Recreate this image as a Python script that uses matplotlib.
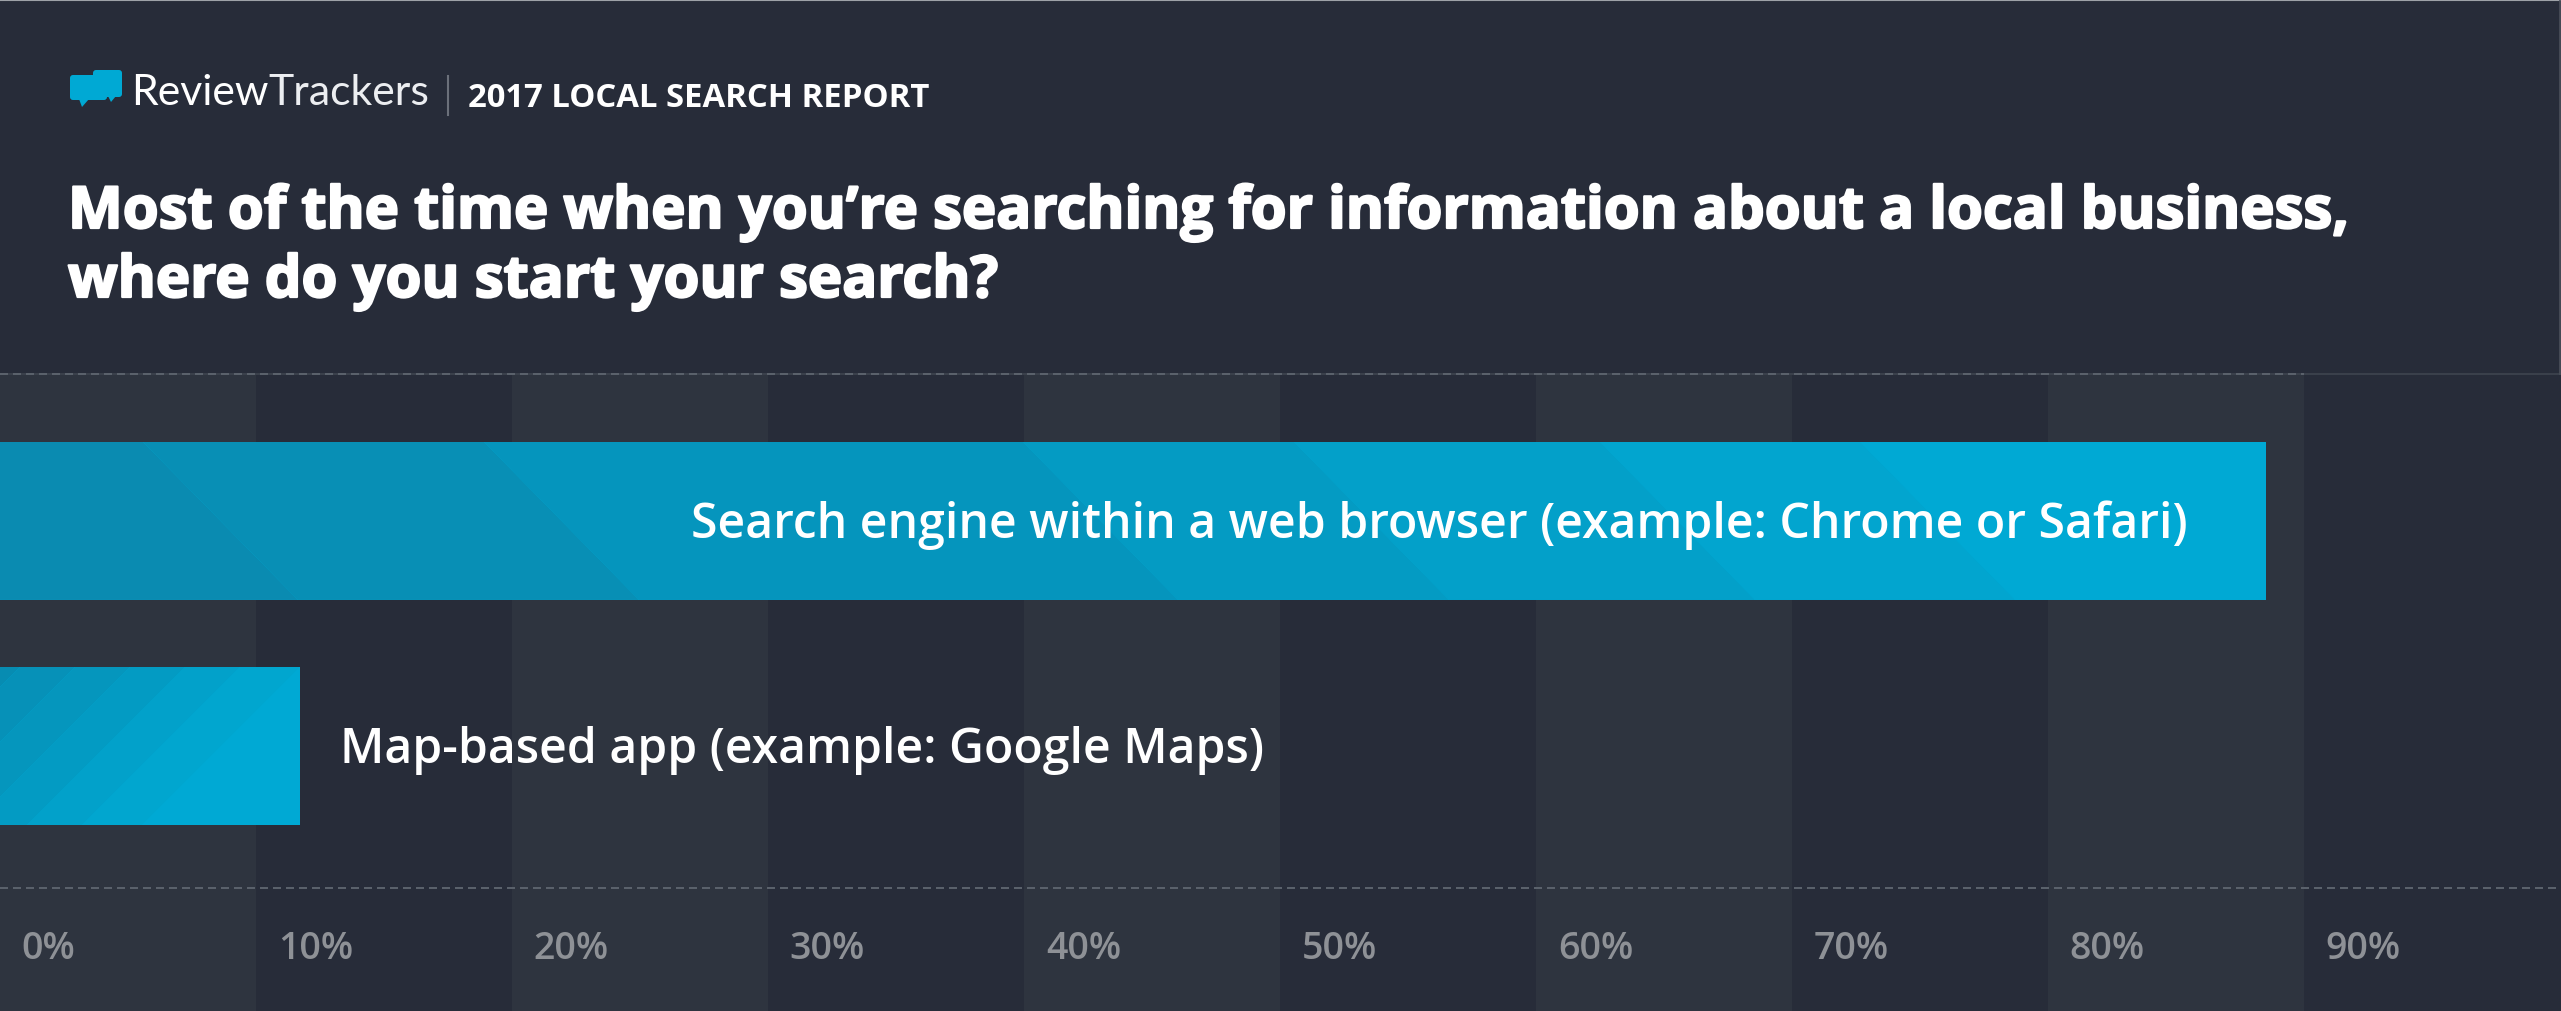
import matplotlib
matplotlib.use('Agg')
import matplotlib.pyplot as plt
import matplotlib.patheffects as pe
from matplotlib.patches import Polygon, FancyBboxPatch

# data
categories = ['Search engine within a web browser (example: Chrome or Safari)',
              'Map-based app (example: Google Maps)']
shares = [88.5, 11.7]
ticks = [0, 10, 20, 30, 40, 50, 60, 70, 80, 90]
tick_labels = ['0%', '10%', '20%', '30%', '40%', '50%', '60%', '70%', '80%', '90%']
title_lines = ['Most of the time when you\u2019re searching for information about a local business,',
               'where do you start your search?']
brand = ['Review', 'Trackers']
report = '2017 LOCAL SEARCH REPORT'

BG = '#272c39'
STRIPE = '#2e343f'
BAR = '#00a9d4'
DASH = '#5a616b'
TICK = '#8e9196'

W, H = 2561, 1012
TOP = 375          # pixel row where the chart area starts
PX = 2560 / 100    # pixels per percent


def shade(ax, bar, edges_px, colors, slant_px):
    # diagonal facets inside a bar, clipped to the bar itself
    y0 = bar.get_y()
    y1 = y0 + bar.get_height()
    for i, c in enumerate(colors):
        a = edges_px[i] / PX
        b = edges_px[i + 1] / PX
        s = slant_px / PX
        p = Polygon([(a, y0), (b, y0), (b + s, y1), (a + s, y1)],
                    closed=True, facecolor=c, edgecolor='none', zorder=3)
        ax.add_patch(p)
        p.set_clip_path(bar)


def main() -> None:
    plt.rcParams['font.family'] = ['Open Sans', 'DejaVu Sans']

    fig = plt.figure(figsize=(W / 100, H / 100), dpi=100, facecolor=BG)

    ax = fig.add_axes([0, 0, 2560 / W, (H - TOP) / H])
    ax.set_facecolor(BG)
    ax.set_xlim(0, 100)
    ax.set_ylim(2.178, -0.653)
    for s in ax.spines.values():
        s.set_visible(False)
    ax.set_xticks([])
    ax.set_yticks([])

    for i, t in enumerate(ticks):
        ax.axvspan(t, t + 10, color=STRIPE if i % 2 == 0 else BG, lw=0, zorder=0)

    ax.axhline(1.631, color=DASH, lw=1.44, ls=(0, (4, 2.5)), zorder=1)

    bars = ax.barh(range(len(shares)), shares, height=0.702, color=BAR, lw=0, zorder=2)

    shade(ax, bars[0], [-300, 143, 484, 1023, 1294, 1600, 1860, 2700],
          ['#0a8bb1', '#088fb5', '#0595bd', '#049bc3', '#03a0c9', '#02a5cf', BAR], 155)
    shade(ax, bars[1], [-300, 20, 75, 130, 185, 240, 300, 600],
          ['#078cb2', '#0691b8', '#0596bd', '#039bc3', '#02a1ca', '#01a6cf', BAR], -158)

    for i, (lab, v) in enumerate(zip(categories, shares)):
        if v > 50:
            ax.text(v - 3.05, i + 0.071, lab, ha='right', va='baseline', color='white',
                    fontsize=34.7, fontweight='semibold', zorder=5)
        else:
            ax.text(v + 1.6, i + 0.071, lab, ha='left', va='baseline', color='white',
                    fontsize=34.7, fontweight='semibold', zorder=5)

    for t, lab in zip(ticks, tick_labels):
        ax.text(t + 0.85, 1.942, lab, ha='left', va='baseline', color=TICK,
                fontsize=27, fontweight='semibold')

    # header drawn in pixel coordinates
    hd = fig.add_axes([0, 0, 1, 1], zorder=5)
    hd.set_xlim(0, W)
    hd.set_ylim(H, 0)
    hd.axis('off')
    hd.patch.set_alpha(0)

    hd.plot([0, W], [TOP, TOP], color='#3b414c', lw=1.4)
    hd.plot([0, ticks[-1] * PX], [TOP, TOP], color=DASH, lw=1.44, ls=(0, (4, 2.5)))
    hd.plot([0, W], [0.8, 0.8], color='#9ea2a8', lw=1.5)
    hd.plot([W - 1, W - 1], [0, TOP], color='#4a505a', lw=1.2)

    # speech bubble logo
    hd.add_patch(FancyBboxPatch((93, 71), 29, 27, boxstyle='round,pad=0,rounding_size=3',
                                facecolor=BAR, edgecolor='none'))
    hd.add_patch(Polygon([(108, 97), (116, 97), (111, 103)], facecolor=BAR, edgecolor='none'))
    hd.add_patch(FancyBboxPatch((70, 76), 37, 25, boxstyle='round,pad=0,rounding_size=3',
                                facecolor=BAR, edgecolor='none'))
    hd.add_patch(Polygon([(79, 100), (89, 100), (82, 108)], facecolor=BAR, edgecolor='none'))

    t1 = hd.text(131, 105, brand[0], fontfamily=['Lato', 'DejaVu Sans'], fontsize=30.8,
                 color='white', va='baseline', ha='left')
    hd.annotate(brand[1], xy=(1, 0), xycoords=t1, va='bottom', ha='left',
                fontfamily=['Lato', 'DejaVu Sans'], fontweight='normal', fontsize=30.8,
                color='#eceef1')
    hd.plot([448, 448], [77, 116], color='#6b707a', lw=1.5)
    hd.text(468, 107, report, fontsize=23.7, fontweight='bold', color='white',
            va='baseline', ha='left')

    heavy = [pe.withStroke(linewidth=1.6, foreground='white')]
    hd.text(68, 229, title_lines[0], fontsize=41.8, fontweight='bold', color='white',
            va='baseline', ha='left', path_effects=heavy)
    hd.text(68, 298, title_lines[1], fontsize=41.8, fontweight='bold', color='white',
            va='baseline', ha='left', path_effects=heavy)

    fig.savefig('out.png', dpi=100, facecolor=BG)


if __name__ == '__main__':
    main()
